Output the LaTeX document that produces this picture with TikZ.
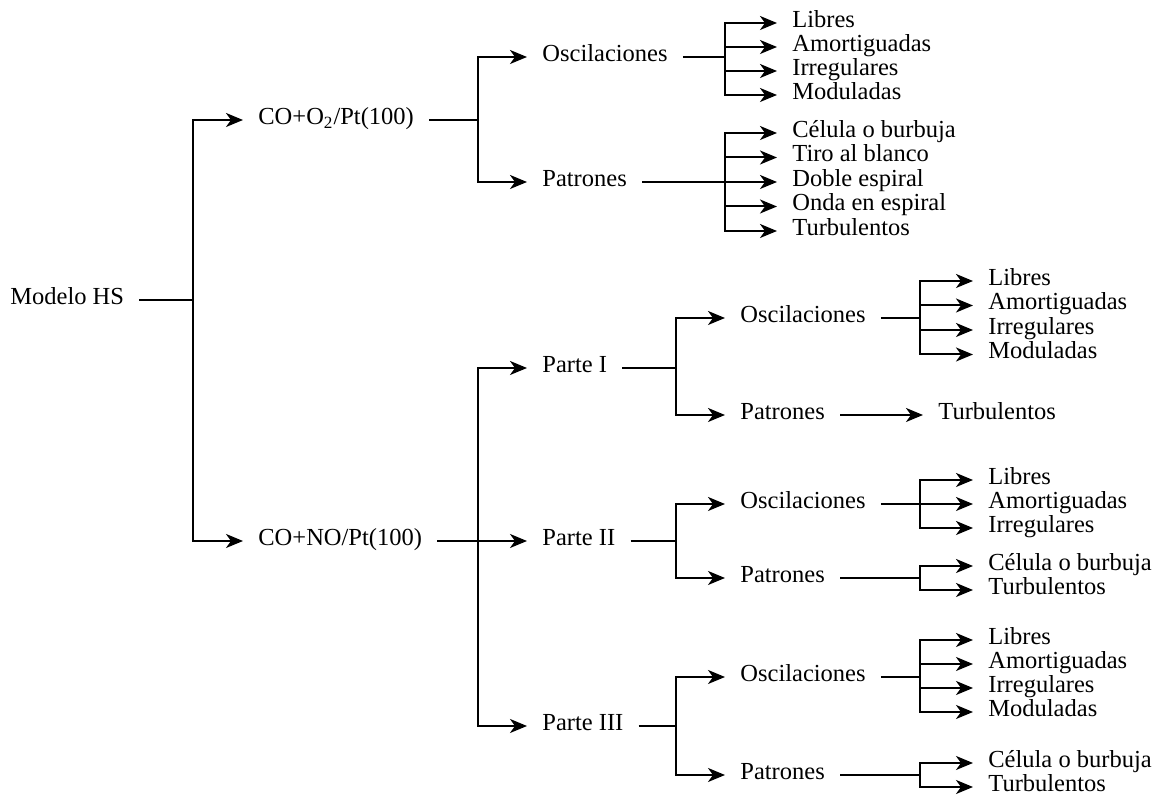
\documentclass[tikz,border=0pt]{standalone}
\usepackage{fontspec}
\setmainfont{Liberation Serif}
\usepackage{tikz}
\usetikzlibrary{arrows.meta}

\begin{document}
\begin{tikzpicture}[
  x=0.5pt, y=-0.5pt,
  % every node/.style={draw=red},
  branchTxt/.style={anchor=west, inner xsep=7.5pt, inner ysep=0pt,
    text height=0.6em, text depth=0.15em,
    font=\fontsize{12.25}{14}\selectfont},
  branchLine/.style={line width=1pt},
  branchArr/.style={line width=1pt, -{Stealth[length=8.5pt,width=7pt,inset=2.5pt]}},
]

\useasboundingbox (0,0) rectangle (1158,795);

% --- Root ---
\node [branchTxt] (modelRoot) at (-5,300) {Modelo HS};
\node [branchTxt] (coOx) at (243,120) {CO+O\textsubscript{2}/Pt(100)};
\node [branchTxt] (coNo) at (243,541) {CO+NO/Pt(100)};
\coordinate (rootFork) at (193,300);

\draw [branchLine] (modelRoot.east) -- (rootFork);
\draw [branchArr] (rootFork) |- (coOx.west);
\draw [branchArr] (rootFork) |- (coNo.west);

% --- Begin CO+O2 Tree ---
\node [branchTxt] (oxOsc) at (527,57) {Oscilaciones};
\node [branchTxt] (oxPat) at (527,182) {Patrones};
\coordinate (oxFork) at (478,120);
\coordinate (oxOscFork) at (725,57);
\coordinate (oxPatFork) at (725,182);

\draw [branchLine] (coOx.east) -- (oxFork);
\draw [branchArr] (oxFork) |- (oxOsc.west);
\draw [branchArr] (oxFork) |- (oxPat.west);
\draw [branchLine] (oxOsc.east) -- (oxOscFork);
\draw [branchLine] (oxPat.east) -- (oxPatFork);

\foreach \lbl [count=\i] in {Libres,Amortiguadas,Irregulares,Moduladas} {
  \node [branchTxt] (oxOscLeaf\i) at (777,{23+24*(\i-1)}) {\lbl};
  \draw [branchArr] (oxOscFork) |- (oxOscLeaf\i.west);
}
\foreach \lbl [count=\i] in {Célula o burbuja,Tiro al blanco,Doble espiral,Onda en espiral,Turbulentos} {
  \node [branchTxt] (oxPatLeaf\i) at (777,{133+24.5*(\i-1)}) {\lbl};
  \draw [branchArr] (oxPatFork) |- (oxPatLeaf\i.west);
}

% --- Begin CO+NO Tree ---
\node [branchTxt] (parteI) at (527,368) {Parte I};
\node [branchTxt] (parteII) at (527,541) {Parte II};
\node [branchTxt] (parteIII) at (527,726) {Parte III};
\coordinate (noFork) at (478,541);

\draw [branchLine] (coNo.east) -- (noFork);
\draw [branchArr] (noFork) |- (parteI.west);
\draw [branchArr] (noFork) -- (parteII.west);
\draw [branchArr] (noFork) |- (parteIII.west);

% Parte I
\node [branchTxt] (pIOsc) at (725,318) {Oscilaciones};
\node [branchTxt] (pIPat) at (725,415) {Patrones};
\node [branchTxt] (pITurb) at (923,415) {Turbulentos};
\coordinate (pIFork) at (676,368);
\coordinate (pIOscFork) at (920,318);

\draw [branchLine] (parteI.east) -- (pIFork);
\draw [branchArr] (pIFork) |- (pIOsc.west);
\draw [branchArr] (pIFork) |- (pIPat.west);
\draw [branchLine] (pIOsc.east) -- (pIOscFork);
\draw [branchArr] (pIPat.east) -- (pITurb.west);
\foreach \lbl [count=\i] in {Libres,Amortiguadas,Irregulares,Moduladas} {
  \node [branchTxt] (pIOscLeaf\i) at (973,{281+24.5*(\i-1)}) {\lbl};
  \draw [branchArr] (pIOscFork) |- (pIOscLeaf\i.west);
}

% Parte II
\node [branchTxt] (pIIOsc) at (725,504) {Oscilaciones};
\node [branchTxt] (pIIPat) at (725,578) {Patrones};
\coordinate (pIIFork) at (676,541);
\coordinate (pIIOscFork) at (920,504);
\coordinate (pIIPatFork) at (920,578);

\draw [branchLine] (parteII.east) -- (pIIFork);
\draw [branchArr] (pIIFork) |- (pIIOsc.west);
\draw [branchArr] (pIIFork) |- (pIIPat.west);
\draw [branchLine] (pIIOsc.east) -- (pIIOscFork);
\draw [branchLine] (pIIPat.east) -- (pIIPatFork);
\foreach \lbl [count=\i] in {Libres,Amortiguadas,Irregulares} {
  \node [branchTxt] (pIIOscLeaf\i) at (973,{480+24*(\i-1)}) {\lbl};
  \draw [branchArr] (pIIOscFork) |- (pIIOscLeaf\i.west);
}
\foreach \lbl [count=\i] in {Célula o burbuja,Turbulentos} {
  \node [branchTxt] (pIIPatLeaf\i) at (973,{566+24*(\i-1)}) {\lbl};
  \draw [branchArr] (pIIPatFork) |- (pIIPatLeaf\i.west);
}

% Parte III
\node [branchTxt] (pIIIOsc) at (725,677) {Oscilaciones};
\node [branchTxt] (pIIIPat) at (725,775) {Patrones};
\coordinate (pIIIFork) at (676,726);
\coordinate (pIIIOscFork) at (920,677);
\coordinate (pIIIPatFork) at (920,775);

\draw [branchLine] (parteIII.east) -- (pIIIFork);
\draw [branchArr] (pIIIFork) |- (pIIIOsc.west);
\draw [branchArr] (pIIIFork) |- (pIIIPat.west);
\draw [branchLine] (pIIIOsc.east) -- (pIIIOscFork);
\draw [branchLine] (pIIIPat.east) -- (pIIIPatFork);
\foreach \lbl [count=\i] in {Libres,Amortiguadas,Irregulares,Moduladas} {
  \node [branchTxt] (pIIIOscLeaf\i) at (973,{640+24*(\i-1)}) {\lbl};
  \draw [branchArr] (pIIIOscFork) |- (pIIIOscLeaf\i.west);
}
\foreach \lbl [count=\i] in {Célula o burbuja,Turbulentos} {
  \node [branchTxt] (pIIIPatLeaf\i) at (973,{763+24*(\i-1)}) {\lbl};
  \draw [branchArr] (pIIIPatFork) |- (pIIIPatLeaf\i.west);
}

\end{tikzpicture}
\end{document}
